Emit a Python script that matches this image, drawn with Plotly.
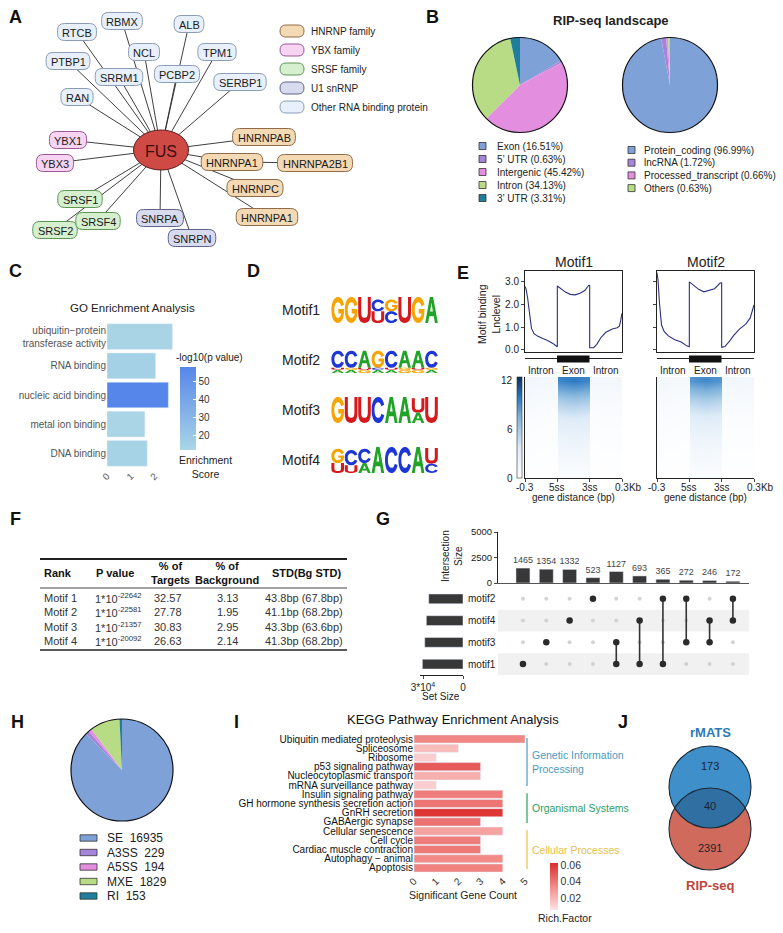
import numpy as np
import plotly.graph_objects as go

W, H = 783, 933
FONT = "Arial, Liberation Sans, Helvetica, sans-serif"

# ======================= DATA =======================
# A: FUS interaction network
hub_name = "FUS"
node_names = ["RTCB", "RBMX", "ALB", "NCL", "TPM1", "PTBP1", "SRRM1", "PCBP2",
              "SERBP1", "RAN", "YBX1", "YBX3", "HNRNPAB", "HNRNPA1", "HNRNPA2B1",
              "HNRNPC", "HNRNPA1", "SRSF1", "SRSF2", "SRSF4", "SNRPA", "SNRPN"]
node_groups = ["other"] * 10 + ["YBX"] * 2 + ["HNRNP"] * 5 + ["SRSF"] * 3 + ["U1"] * 2
node_links = [-1] * 14 + [13] + [-1] * 7          # -1 -> linked to FUS
group_keys = ["HNRNP", "YBX", "SRSF", "U1", "other"]
group_labels = ["HNRNP family", "YBX family", "SRSF family", "U1 snRNP", "Other RNA binding protein"]

# B: RIP-seq landscape
region_labels = ["Exon", "5’ UTR", "Intergenic", "Intron", "3’ UTR"]
region_pct = [16.51, 0.63, 45.42, 34.13, 3.31]
biotype_labels = ["Protein_coding", "lncRNA", "Processed_transcript", "Others"]
biotype_pct = [96.99, 1.72, 0.66, 0.63]

# C: GO enrichment
go_terms = ["ubiquitin−protein<br>transferase activity", "RNA binding", "nucleic acid binding",
            "metal ion binding", "DNA binding"]
go_score = [2.75, 2.04, 2.58, 1.59, 1.69]
go_logp = [13, 15, 58, 12.5, 14]

# D: motif logos (letters per position, top to bottom, relative height)
motif_names = ["Motif1", "Motif2", "Motif3", "Motif4"]
motif_logos = [
    [[("G", 1.0)], [("G", 1.0)], [("U", 1.0)], [("C", 0.45), ("U", 0.45)],
     [("G", 0.45), ("C", 0.45)], [("U", 1.0)], [("G", 1.0)], [("A", 1.0)]],
    [[("C", 0.66), ("U", 0.08), ("A", 0.12)], [("C", 0.66), ("G", 0.08), ("A", 0.12)],
     [("A", 0.66), ("U", 0.08), ("G", 0.12)], [("G", 0.66), ("C", 0.08), ("A", 0.12)],
     [("C", 0.66), ("U", 0.08), ("A", 0.12)], [("A", 0.66), ("G", 0.08), ("G", 0.12)],
     [("A", 0.66), ("U", 0.08), ("G", 0.12)], [("C", 0.66), ("G", 0.08), ("A", 0.12)]],
    [[("G", 1.0)], [("U", 1.0)], [("U", 1.0)], [("C", 1.0)], [("A", 1.0)], [("A", 1.0)],
     [("U", 0.55), ("A", 0.4)], [("U", 1.0)]],
    [[("G", 0.55), ("U", 0.38)], [("C", 0.58), ("U", 0.3)], [("C", 0.55), ("A", 0.38)],
     [("A", 1.0)], [("C", 1.0)], [("C", 1.0)], [("A", 1.0)], [("U", 0.6), ("C", 0.36)]],
]

# E: motif binding profile (x: 0-1 upstream intron, 1-2 exon, 2-3 downstream intron)
prof1_x = [0.00, 0.03, 0.08, 0.14, 0.20, 0.28, 0.40, 0.55, 0.70, 0.85, 0.97, 1.00, 1.00, 1.10, 1.25,
           1.40, 1.55, 1.70, 1.85, 1.97, 2.00, 2.00, 2.12, 2.22, 2.35, 2.50, 2.70, 2.85, 2.92, 2.96, 3.00]
prof1_y = [2.80, 2.70, 2.30, 1.50, 0.95, 0.72, 0.60, 0.50, 0.42, 0.30, 0.15, 0.14, 2.82, 2.72, 2.55,
           2.45, 2.43, 2.50, 2.62, 2.85, 2.84, 0.10, 0.10, 0.25, 0.55, 0.78, 0.92, 0.98, 1.05, 1.30, 1.62]
prof2_x = [0.00, 0.03, 0.08, 0.14, 0.22, 0.35, 0.55, 0.75, 0.92, 1.00, 1.00, 1.12, 1.30, 1.45, 1.60,
           1.78, 1.95, 2.00, 2.00, 2.10, 2.25, 2.38, 2.55, 2.75, 2.88, 3.00]
prof2_y = [3.40, 3.10, 2.00, 1.10, 0.82, 0.62, 0.45, 0.35, 0.18, 0.14, 3.00, 2.85, 2.66, 2.56, 2.62,
           2.70, 2.95, 2.96, 0.12, 0.15, 0.40, 0.65, 0.92, 1.15, 1.40, 1.98]
gene_ticks = ["-0.3", "5ss", "3ss", "0.3Kb"]
hm_cols = [0.02, 0.5, 0.98, 1.02, 1.5, 1.98, 2.02, 2.5, 2.98]
hm1_z = [
    [1.6, 1.3, 1.2, 9.0, 9.5, 9.0, 1.2, 1.3, 1.4],
    [1.3, 1.1, 1.0, 7.6, 8.0, 7.6, 1.0, 1.1, 1.1],
    [1.1, 0.9, 0.8, 6.0, 6.4, 6.0, 0.8, 0.9, 0.9],
    [0.9, 0.7, 0.6, 4.8, 5.1, 4.8, 0.6, 0.7, 0.7],
    [0.7, 0.6, 0.5, 3.8, 4.0, 3.8, 0.5, 0.6, 0.6],
    [0.6, 0.5, 0.4, 3.1, 3.3, 3.1, 0.4, 0.5, 0.5],
    [0.5, 0.4, 0.3, 2.5, 2.7, 2.5, 0.3, 0.4, 0.4],
    [0.4, 0.3, 0.3, 2.0, 2.2, 2.0, 0.3, 0.3, 0.3],
    [0.3, 0.3, 0.2, 1.6, 1.7, 1.6, 0.2, 0.3, 0.3],
    [0.3, 0.2, 0.2, 1.2, 1.3, 1.2, 0.2, 0.2, 0.2],
    [0.2, 0.2, 0.1, 0.9, 1.0, 0.9, 0.1, 0.2, 0.2],
    [0.1, 0.1, 0.1, 0.6, 0.7, 0.6, 0.1, 0.1, 0.1],
]
hm2_z = [
    [1.4, 1.2, 1.1, 8.4, 8.9, 8.4, 1.3, 1.4, 1.5],
    [1.2, 1.0, 0.9, 7.0, 7.4, 7.0, 1.1, 1.2, 1.2],
    [1.0, 0.8, 0.7, 5.5, 5.9, 5.5, 0.9, 1.0, 1.0],
    [0.8, 0.7, 0.6, 4.4, 4.7, 4.4, 0.7, 0.8, 0.8],
    [0.7, 0.6, 0.5, 3.5, 3.7, 3.5, 0.6, 0.6, 0.6],
    [0.6, 0.5, 0.4, 2.8, 3.0, 2.8, 0.5, 0.5, 0.5],
    [0.5, 0.4, 0.3, 2.3, 2.4, 2.3, 0.4, 0.4, 0.4],
    [0.4, 0.3, 0.3, 1.8, 1.9, 1.8, 0.3, 0.3, 0.3],
    [0.3, 0.3, 0.2, 1.4, 1.5, 1.4, 0.3, 0.3, 0.3],
    [0.3, 0.2, 0.2, 1.1, 1.2, 1.1, 0.2, 0.2, 0.2],
    [0.2, 0.2, 0.1, 0.8, 0.9, 0.8, 0.2, 0.2, 0.2],
    [0.1, 0.1, 0.1, 0.6, 0.6, 0.6, 0.1, 0.1, 0.1],
]

# F: motif table
tbl_header = ["Rank", "P value", "% of<br>Targets", "% of<br>Background", "STD(Bg STD)"]
tbl_rank = ["Motif 1", "Motif 2", "Motif 3", "Motif 4"]
tbl_pexp = ["22642", "22581", "21357", "20092"]
tbl_targets = ["32.57", "27.78", "30.83", "26.63"]
tbl_bg = ["3.13", "1.95", "2.95", "2.14"]
tbl_std = ["43.8bp (67.8bp)", "41.1bp (68.2bp)", "43.3bp (63.6bp)", "41.3bp (68.2bp)"]

# G: UpSet plot
set_names = ["motif1", "motif3", "motif4", "motif2"]      # bottom -> top
set_sizes = [30500, 28700, 27500, 25700]
inter_sizes = [1465, 1354, 1332, 523, 1127, 693, 365, 272, 246, 172]
inter_sets = [["motif1"], ["motif3"], ["motif4"], ["motif2"], ["motif3", "motif1"],
              ["motif4", "motif1"], ["motif2", "motif1"], ["motif2", "motif3"],
              ["motif4", "motif3"], ["motif2", "motif4"]]

# H: alternative splicing events
as_types = ["SE", "A3SS", "A5SS", "MXE", "RI"]
as_counts = [16935, 229, 194, 1829, 153]

# I: KEGG
kegg_terms = ["Ubiquitin mediated proteolysis", "Spliceosome", "Ribosome", "p53 signaling pathway",
              "Nucleocytoplasmic transport", "mRNA surveillance pathway", "Insulin signaling pathway",
              "GH hormone synthesis secretion action", "GnRH secretion", "GABAergic synapse",
              "Cellular senescence", "Cell cycle", "Cardiac muscle contraction", "Autophagy − animal",
              "Apoptosis"]
kegg_counts = [5, 2, 1, 3, 3, 1, 4, 4, 4, 3, 4, 3, 3, 4, 4]
kegg_rich = [0.035, 0.018, 0.012, 0.048, 0.022, 0.012, 0.038, 0.040, 0.060, 0.041,
             0.026, 0.038, 0.039, 0.034, 0.036]
kegg_groups = ["Genetic Information<br>Processing", "Organismal Systems", "Cellular Processes"]
kegg_group_rows = [(0, 5), (6, 9), (10, 14)]

# J: Venn
venn_names = ["rMATS", "RIP-seq"]
venn_counts = [173, 40, 2391]

# ======================= STYLE / LAYOUT =======================
pie_colors = ["#7ea1d8", "#a584d9", "#e48ee0", "#b8dc86", "#1f7e9e"]
pie2_colors = ["#7ea1d8", "#a584d9", "#e48ee0", "#b8dc86"]
grp_fill = {"HNRNP": "#f4d9b5", "YBX": "#f7d4f2", "SRSF": "#d6efcf", "U1": "#d8dbee", "other": "#e7f0fb"}
grp_line = {"HNRNP": "#8f6c47", "YBX": "#9c5896", "SRSF": "#5e9657", "U1": "#5f6388", "other": "#8a9cb8"}
node_xy = [(77, 32), (122, 21), (189, 24), (144, 52), (217, 52), (68, 61), (119, 77), (177, 74),
           (240, 82), (77, 97), (68, 140), (55, 163), (264, 137), (232, 162), (315, 163),
           (255, 188), (267, 217), (80, 199), (55, 230), (98, 221), (160, 218), (192, 238)]
hub_xy = (161, 150)
letter_col = {"A": "#21a328", "C": "#1d36d6", "G": "#f5a400", "U": "#d5191c"}

LETTERS = {
    "A": [("M", 0, 1), ("L", 0.37, 0), ("L", 0.63, 0), ("L", 1, 1), ("L", 0.77, 1), ("L", 0.68, 0.74),
          ("L", 0.32, 0.74), ("L", 0.23, 1), ("Z",),
          ("M", 0.39, 0.56), ("L", 0.61, 0.56), ("L", 0.5, 0.22), ("Z",)],
    "C": [("M", 1, 0.3), ("C", 0.92, 0.1, 0.74, 0, 0.52, 0), ("C", 0.2, 0, 0, 0.22, 0, 0.5),
          ("C", 0, 0.8, 0.2, 1, 0.52, 1), ("C", 0.76, 1, 0.92, 0.88, 1, 0.7), ("L", 0.78, 0.64),
          ("C", 0.73, 0.75, 0.64, 0.8, 0.52, 0.8), ("C", 0.34, 0.8, 0.23, 0.68, 0.23, 0.5),
          ("C", 0.23, 0.32, 0.34, 0.2, 0.52, 0.2), ("C", 0.64, 0.2, 0.73, 0.26, 0.78, 0.36), ("Z",)],
    "G": [("M", 1, 0.3), ("C", 0.92, 0.1, 0.74, 0, 0.52, 0), ("C", 0.2, 0, 0, 0.22, 0, 0.5),
          ("C", 0, 0.8, 0.2, 1, 0.52, 1), ("C", 0.8, 1, 1, 0.82, 1, 0.56), ("L", 1, 0.46),
          ("L", 0.55, 0.46), ("L", 0.55, 0.63), ("L", 0.78, 0.63),
          ("C", 0.75, 0.74, 0.65, 0.8, 0.52, 0.8), ("C", 0.34, 0.8, 0.23, 0.68, 0.23, 0.5),
          ("C", 0.23, 0.32, 0.34, 0.2, 0.52, 0.2), ("C", 0.64, 0.2, 0.73, 0.26, 0.78, 0.36), ("Z",)],
    "U": [("M", 0, 0), ("L", 0.24, 0), ("L", 0.24, 0.6), ("C", 0.24, 0.76, 0.34, 0.8, 0.5, 0.8),
          ("C", 0.66, 0.8, 0.76, 0.76, 0.76, 0.6), ("L", 0.76, 0), ("L", 1, 0), ("L", 1, 0.62),
          ("C", 1, 0.9, 0.8, 1, 0.5, 1), ("C", 0.2, 1, 0, 0.9, 0, 0.62), ("Z",)],
}
CW = {"A": .667, "B": .667, "C": .722, "E": .667, "F": .611, "H": .722, "L": .556, "M": .833,
      "N": .722, "P": .667, "R": .722, "S": .667, "T": .611, "U": .722, "X": .667, "Y": .667,
      "1": .556, "2": .556, "3": .556, "4": .556}


def px(x):
    return x / W


def py(y):
    return 1 - y / H


fig = go.Figure()
shapes, annos = [], []


def T(x, y, s, size=10, color="#222", bold=False, xa="center", ya="middle", angle=0,
      xref="x", yref="y", align="center"):
    annos.append(dict(x=x, y=y, xref=xref, yref=yref, text=(f"<b>{s}</b>" if bold else s),
                      showarrow=False, font=dict(size=size, color=color, family=FONT),
                      xanchor=xa, yanchor=ya, textangle=angle, align=align, borderpad=0))


def S(**kw):
    d = dict(xref="x", yref="y", layer="above")
    d.update(kw)
    shapes.append(d)


def rrect(x0, y0, x1, y1, r):
    return (f"M{x0+r},{y0} L{x1-r},{y0} Q{x1},{y0} {x1},{y0+r} L{x1},{y1-r} Q{x1},{y1} {x1-r},{y1} "
            f"L{x0+r},{y1} Q{x0},{y1} {x0},{y1-r} L{x0},{y0+r} Q{x0},{y0} {x0+r},{y0} Z")


def letter_path(ch, x0, y0, w, h):
    out = []
    for seg in LETTERS[ch]:
        nums = seg[1:]
        pts = [f"{x0 + nums[k] * w:.2f},{y0 + nums[k + 1] * h:.2f}" for k in range(0, len(nums), 2)]
        out.append(seg[0] + " ".join(pts))
    return " ".join(out)


# panel letters
for lab, lx, ly in [("A", 15, 17), ("B", 432, 17), ("C", 15, 271), ("D", 253, 271), ("E", 463, 273),
                    ("F", 15, 519), ("G", 383, 519), ("H", 17, 722), ("I", 236, 722), ("J", 623, 722)]:
    T(lx, ly, lab, size=18, color="#111", bold=True)

# ---------------- A ----------------
ex, ey = [], []
for i, (x, y) in enumerate(node_xy):
    tx, ty = hub_xy if node_links[i] < 0 else node_xy[node_links[i]]
    ex += [x, tx, None]
    ey += [y, ty, None]
fig.add_trace(go.Scatter(x=ex, y=ey, mode="lines", line=dict(color="#2a2a2a", width=0.9),
                         xaxis="x", yaxis="y", hoverinfo="skip", showlegend=False))
for name, grp, (cx, cy) in zip(node_names, node_groups, node_xy):
    w = sum(CW.get(c, 0.6) for c in name) * 11 + 9
    h = 17
    S(type="path", path=rrect(cx - w / 2, cy - h / 2, cx + w / 2, cy + h / 2, 7),
      fillcolor=grp_fill[grp], line=dict(color=grp_line[grp], width=1))
    T(cx, cy + 0.5, name, size=11, color="#1a1a1a")
S(type="circle", x0=hub_xy[0] - 27.5, x1=hub_xy[0] + 27.5, y0=hub_xy[1] - 20, y1=hub_xy[1] + 20,
  fillcolor="#cf4a45", line=dict(color="#5b1c1c", width=1))
T(hub_xy[0], hub_xy[1] + 1, hub_name, size=16, color="#3b0f0f")
for k, (g, lab) in enumerate(zip(group_keys, group_labels)):
    yy = 31 + k * 19
    S(type="path", path=rrect(280, yy - 6, 304, yy + 6, 6), fillcolor=grp_fill[g],
      line=dict(color=grp_line[g], width=1))
    T(310, yy, lab, size=10, color="#222", xa="left")

# ---------------- B ----------------
T(611, 20, "RIP-seq landscape", size=13, color="#222", bold=True)
for vals, labs, cols, cx in [(region_pct, region_labels, pie_colors, 520),
                             (biotype_pct, biotype_labels, pie2_colors, 670)]:
    r = 47.5
    fig.add_trace(go.Pie(values=vals, labels=labs, marker=dict(colors=cols, line=dict(width=0)),
                         domain=dict(x=[px(cx - r), px(cx + r)], y=[py(85 + r), py(85 - r)]),
                         sort=False, direction="clockwise", rotation=0, textinfo="none",
                         hoverinfo="skip", showlegend=False, automargin=False))
    S(type="circle", x0=cx - r, x1=cx + r, y0=85 - r, y1=85 + r, line=dict(color="#111", width=1.2),
      fillcolor="rgba(0,0,0,0)")
for k, (lab, v) in enumerate(zip(region_labels, region_pct)):
    yy = 146 + k * 13
    S(type="rect", x0=479, x1=486, y0=yy - 3.5, y1=yy + 3.5, fillcolor=pie_colors[k],
      line=dict(color="#333", width=0.8))
    T(496, yy, f"{lab} ({v}%)", size=10, color="#222", xa="left")
for k, (lab, v) in enumerate(zip(biotype_labels, biotype_pct)):
    yy = 150 + k * 12.7
    S(type="rect", x0=628, x1=635, y0=yy - 3.5, y1=yy + 3.5, fillcolor=pie2_colors[k],
      line=dict(color="#333", width=0.8))
    T(643, yy, f"{lab} ({v}%)", size=10, color="#222", xa="left")

# ---------------- C ----------------
T(132, 308, "GO Enrichment Analysis", size=11.5, color="#222")
fig.add_trace(go.Bar(x=go_score, y=go_terms, orientation="h", width=0.88, xaxis="x2", yaxis="y2",
                     marker=dict(color=go_logp, cmin=12, cmax=58,
                                 colorscale=[[0, "#aad6e6"], [1, "#5786ea"]],
                                 colorbar=dict(x=px(180), xanchor="left", y=py(450), yanchor="bottom",
                                               lenmode="pixels", len=83, thickness=16, xpad=0, ypad=0,
                                               outlinewidth=0, tickvals=[20, 30, 40, 50],
                                               ticks="inside", ticklen=3, tickcolor="white",
                                               tickfont=dict(size=10, color="#333", family=FONT))),
                     hoverinfo="skip", showlegend=False))
T(209, 357, "-log10(p value)", size=10, color="#222")
T(205, 467, "Enrichment<br>Score", size=10.5, color="#222")

# ---------------- D ----------------
logo_x0, colw, full_h = 331, 13.4, 26
for m, (mname, logo) in enumerate(zip(motif_names, motif_logos)):
    base = 323 + m * 50
    T(281, base - 13, mname, size=14, color="#222", xa="left")
    for i, pos in enumerate(logo):
        total = sum(hh for _, hh in pos)
        ytop = base - total * full_h
        for ch, hh in pos:
            S(type="path", path=letter_path(ch, logo_x0 + i * colw + 0.4, ytop, colw - 0.8, hh * full_h),
              fillcolor=letter_col[ch], line=dict(width=0))
            ytop += hh * full_h

# ---------------- E ----------------
hm_scale = [[0, "#ffffff"], [0.3, "#deebf7"], [0.6, "#7fb3dc"], [0.8, "#2a78c2"], [1, "#0b2d5e"]]
for k, (mname, xs, ys, z, xl, ax) in enumerate([("Motif1", prof1_x, prof1_y, hm1_z, 525, 3),
                                                 ("Motif2", prof2_x, prof2_y, hm2_z, 657, 4)]):
    xr = xl + 97
    T((xl + xr) / 2, 262, mname, size=14, color="#222")
    fig.add_trace(go.Scatter(x=xs, y=ys, mode="lines", line=dict(color="#2c3080", width=1.1),
                             xaxis=f"x{ax}", yaxis=f"y{ax}", hoverinfo="skip", showlegend=False))
    cb = dict(x=px(517), xanchor="left", y=py(478), yanchor="bottom", lenmode="pixels", len=101,
              thickness=5, xpad=0, ypad=0, showticklabels=False, ticks="", outlinewidth=0.6,
              outlinecolor="#333")
    fig.add_trace(go.Heatmap(z=z, x=hm_cols, y0=0, dy=1, zmin=0, zmax=12, colorscale=hm_scale,
                             zsmooth="best", showscale=(k == 0), colorbar=cb,
                             xaxis=f"x{ax + 2}", yaxis=f"y{ax + 2}", hoverinfo="skip"))
    # gene model
    S(type="line", x0=xl, x1=xr, y0=358.5, y1=358.5, line=dict(color="#222", width=1))
    S(type="rect", x0=xl + 32, x1=xl + 64.5, y0=355.5, y1=362.5, fillcolor="#111", line=dict(width=0))
    for lab, xx in [("Intron", xl + 16), ("Exon", xl + 48), ("Intron", xl + 81)]:
        T(xx, 370, lab, size=10, color="#222")
    for lab, xx in zip(gene_ticks, [xl, xl + 32, xl + 64.5, xl + 97]):
        T(xx + (6 if lab == "0.3Kb" else 0), 487, lab, size=10, color="#222")
    T((xl + xr) / 2, 497.5, "gene distance (bp)", size=10, color="#222")
T(489, 314, "Motif binding<br>Lnclevel", size=10.5, color="#222", angle=-90)
for lab, yy in [("12", 380), ("6", 429), ("0", 478)]:
    T(514, yy, lab, size=10, color="#222", xa="right")

# ---------------- F ----------------
S(type="line", x0=40, x1=347, y0=559, y1=559, line=dict(color="#222", width=2))
S(type="line", x0=40, x1=347, y0=588, y1=588, line=dict(color="#444", width=1))
S(type="line", x0=40, x1=347, y0=650, y1=650, line=dict(color="#222", width=1.6))
for lab, xx in zip(tbl_header, [58, 115, 170, 227, 306]):
    T(xx, 573, lab, size=11, color="#111", bold=True)
for r in range(4):
    yy = 598 + r * 14.4
    T(43, yy, tbl_rank[r], size=11, color="#333", xa="left")
    T(94, yy, f"1*10<sup>-{tbl_pexp[r]}</sup>", size=11, color="#333", xa="left")
    T(168, yy, tbl_targets[r], size=11, color="#333")
    T(227, yy, tbl_bg[r], size=11, color="#333")
    T(304, yy, tbl_std[r], size=11, color="#333")

# ---------------- G ----------------
cols_idx = list(range(len(inter_sizes)))
fig.add_trace(go.Bar(x=cols_idx, y=inter_sizes, width=0.6, marker=dict(color="#383838"),
                     text=[str(v) for v in inter_sizes], textposition="outside", cliponaxis=False,
                     constraintext="none", textfont=dict(size=9, color="#444", family=FONT),
                     xaxis="x7", yaxis="y7", hoverinfo="skip", showlegend=False))
in_x, in_y, on_x, on_y, lx, ly = [], [], [], [], [], []
for c, members in enumerate(inter_sets):
    rows = [set_names.index(mm) for mm in members]
    for r in range(len(set_names)):
        if r in rows:
            on_x.append(c)
            on_y.append(r)
        else:
            in_x.append(c)
            in_y.append(r)
    if len(rows) > 1:
        lx += [c, c, None]
        ly += [min(rows), max(rows), None]
fig.add_trace(go.Scatter(x=in_x, y=in_y, mode="markers", marker=dict(color="#d3d3d3", size=4),
                         xaxis="x8", yaxis="y8", hoverinfo="skip", showlegend=False))
fig.add_trace(go.Scatter(x=lx, y=ly, mode="lines", line=dict(color="#333", width=1.6),
                         xaxis="x8", yaxis="y8", hoverinfo="skip", showlegend=False))
fig.add_trace(go.Scatter(x=on_x, y=on_y, mode="markers", marker=dict(color="#2b2b2b", size=6.5),
                         xaxis="x8", yaxis="y8", hoverinfo="skip", showlegend=False))
fig.add_trace(go.Bar(x=set_sizes, y=list(range(len(set_names))), orientation="h", width=0.45,
                     marker=dict(color="#383838"), xaxis="x9", yaxis="y9", hoverinfo="skip",
                     showlegend=False))
for r in (0, 2):
    shapes.append(dict(type="rect", xref="x8 domain", yref="y8", x0=0, x1=1, y0=r - 0.5, y1=r + 0.5,
                       fillcolor="#f1f1f1", line=dict(width=0), layer="below"))
for r, nm in enumerate(set_names):
    T(467, r, nm, size=10, color="#222", xa="left", yref="y8")
T(452, 556, "Intersection<br>Size", size=10, color="#222", angle=-90)
T(441, 696, "Set Size", size=10, color="#222")

# ---------------- H ----------------
hc, hr = (122, 770), 51
fig.add_trace(go.Pie(values=as_counts, labels=as_types, marker=dict(colors=pie_colors, line=dict(width=0)),
                     domain=dict(x=[px(hc[0] - hr), px(hc[0] + hr)], y=[py(hc[1] + hr), py(hc[1] - hr)]),
                     sort=False, direction="clockwise", rotation=0, textinfo="none",
                     hoverinfo="skip", showlegend=False, automargin=False))
S(type="circle", x0=hc[0] - hr, x1=hc[0] + hr, y0=hc[1] - hr, y1=hc[1] + hr,
  line=dict(color="#111", width=1.2), fillcolor="rgba(0,0,0,0)")
for k, (lab, v) in enumerate(zip(as_types, as_counts)):
    yy = 838 + k * 14.5
    S(type="rect", x0=80, x1=97, y0=yy - 3.2, y1=yy + 3.2, fillcolor=pie_colors[k],
      line=dict(color="#333", width=0.8))
    T(106, yy, f"{lab}  {v}", size=12, color="#222", xa="left")

# ---------------- I ----------------
T(453, 719, "KEGG Pathway Enrichment Analysis", size=13, color="#111")
fig.add_trace(go.Bar(x=kegg_counts, y=kegg_terms, orientation="h", width=0.88, xaxis="x10", yaxis="y10",
                     marker=dict(color=kegg_rich, cmin=0.005, cmax=0.063,
                                 colorscale=[[0, "#fde4e4"], [0.5, "#f28a88"], [1, "#dc2b2b"]],
                                 colorbar=dict(x=px(550), xanchor="left", y=py(910), yanchor="bottom",
                                               lenmode="pixels", len=47, thickness=8, xpad=0, ypad=0,
                                               outlinewidth=0, tickvals=[0.02, 0.04, 0.06], ticks="",
                                               tickfont=dict(size=10.5, color="#333", family=FONT))),
                     hoverinfo="skip", showlegend=False))
T(463, 895, "Significant Gene Count", size=10.5, color="#222")
T(565, 918, "Rich.Factor", size=10.5, color="#222")
grp_cols = ["#4a9ac0", "#2e9d62", "#e6c04b"]
row_y0, row_dy = 739, 9.21
for (a, b), lab, col in zip(kegg_group_rows, kegg_groups, grp_cols):
    y0, y1 = row_y0 + a * row_dy - 1, row_y0 + b * row_dy + 1
    S(type="line", x0=527, x1=527, y0=y0, y1=y1, line=dict(color=col, width=1.2))
    T(531, (y0 + y1) / 2, lab, size=10.5, color=col, xa="left", align="left")

# ---------------- J ----------------
c1, c2, vr = (710, 787), (710, 829), 41
S(type="circle", x0=c2[0] - vr, x1=c2[0] + vr, y0=c2[1] - vr, y1=c2[1] + vr, fillcolor="#cf6a5c",
  line=dict(width=0))
S(type="circle", x0=c1[0] - vr, x1=c1[0] + vr, y0=c1[1] - vr, y1=c1[1] + vr, fillcolor="#3f8fcb",
  line=dict(width=0))
half = (c2[1] - c1[1]) / 2
a0 = np.arcsin(half / vr)
t1 = np.linspace(a0, np.pi - a0, 40)
t2 = np.linspace(np.pi + a0, 2 * np.pi - a0, 40)
pts = [(c1[0] + vr * np.cos(t), c1[1] + vr * np.sin(t)) for t in t1] + \
      [(c2[0] + vr * np.cos(t), c2[1] + vr * np.sin(t)) for t in t2]
S(type="path", path="M" + " L".join(f"{x:.2f},{y:.2f}" for x, y in pts) + " Z", fillcolor="#2f6fa1",
  line=dict(width=0))
for cc in (c1, c2):
    S(type="circle", x0=cc[0] - vr, x1=cc[0] + vr, y0=cc[1] - vr, y1=cc[1] + vr,
      fillcolor="rgba(0,0,0,0)", line=dict(color="#1e2a36", width=1.1))
T(710, 732, venn_names[0], size=13, color="#2a7bb8", bold=True)
T(710, 885, venn_names[1], size=13, color="#c0443a", bold=True)
for v, yy in zip(venn_counts, [766, 806, 848]):
    T(710, yy, str(v), size=11, color="#1b2430")

# ======================= AXES =======================
hid = dict(showgrid=False, zeroline=False, fixedrange=True, automargin=False)
upset_range = [-1.07, 9.69]
axes = dict(
    xaxis=dict(domain=[0, 1], range=[0, W], visible=False, **hid),
    yaxis=dict(domain=[0, 1], range=[H, 0], visible=False, **hid),
    xaxis2=dict(domain=[px(107), px(176)], range=[0, 2.9], anchor="y2", tickvals=[0, 1, 2], tickangle=-45,
                tickfont=dict(size=9.5, color="#555"), showline=False, ticks="", **hid),
    yaxis2=dict(domain=[py(468), py(322)], anchor="x2", autorange="reversed", ticks="",
                tickmode="array", tickvals=go_terms,
                tickfont=dict(size=10, color="#555"), showline=False, **hid),
    xaxis3=dict(domain=[px(525), px(622)], range=[0, 3], anchor="y3", showticklabels=False, ticks="",
                showline=True, mirror=True, linecolor="#222", linewidth=1, **hid),
    yaxis3=dict(domain=[py(352), py(271)], range=[-0.09, 3.48], anchor="x3", tickvals=[0, 1, 2, 3],
                ticktext=["0.0", "1.0", "2.0", "3.0"], ticks="outside", ticklen=3,
                tickfont=dict(size=10, color="#222"), showline=True, mirror=True, linecolor="#222",
                linewidth=1, **hid),
    xaxis4=dict(domain=[px(657), px(754)], range=[0, 3], anchor="y4", showticklabels=False, ticks="",
                showline=True, mirror=True, linecolor="#222", linewidth=1, **hid),
    yaxis4=dict(domain=[py(352), py(271)], range=[-0.09, 3.48], anchor="x4", tickvals=[0, 1, 2, 3],
                showticklabels=False, ticks="outside", ticklen=3, showline=True, mirror=True,
                linecolor="#222", linewidth=1, **hid),
    xaxis5=dict(domain=[px(525), px(622)], range=[0, 3], anchor="y5", tickvals=[0, 1, 2, 3],
                showticklabels=False, ticks="outside", ticklen=3, showline=True, linecolor="#222", **hid),
    yaxis5=dict(domain=[py(478), py(377)], range=[11.5, -0.5], anchor="x5", showticklabels=False,
                ticks="", showline=True, linecolor="#222", **hid),
    xaxis6=dict(domain=[px(657), px(754)], range=[0, 3], anchor="y6", tickvals=[0, 1, 2, 3],
                showticklabels=False, ticks="outside", ticklen=3, showline=True, linecolor="#222", **hid),
    yaxis6=dict(domain=[py(478), py(377)], range=[11.5, -0.5], anchor="x6", showticklabels=False,
                ticks="", showline=True, linecolor="#222", **hid),
    xaxis7=dict(domain=[px(498), px(749)], range=upset_range, anchor="y7", showticklabels=False,
                ticks="", showline=True, linecolor="#555", linewidth=1.3, **hid),
    yaxis7=dict(domain=[py(583), py(532)], range=[0, 5000], anchor="x7", tickvals=[0, 2500, 5000],
                ticks="outside", ticklen=3, showline=True, linecolor="#222", linewidth=1,
                tickfont=dict(size=9.5, color="#222"), **hid),
    xaxis8=dict(domain=[px(498), px(749)], range=upset_range, anchor="y8", visible=False, **hid),
    yaxis8=dict(domain=[py(675), py(588)], range=[-0.5, 3.5], anchor="x8", visible=False, **hid),
    xaxis9=dict(domain=[px(420), px(463)], range=[32250, 0], anchor="y9", tickvals=[30000, 0],
                ticktext=["3*10<sup>4</sup>", "0"], ticks="outside", ticklen=3, showline=True,
                linecolor="#222", tickfont=dict(size=10, color="#222"), **hid),
    yaxis9=dict(domain=[py(675), py(588)], range=[-0.5, 3.5], anchor="x9", visible=False, **hid),
    xaxis10=dict(domain=[px(414), px(525)], range=[0, 5], anchor="y10", tickvals=[0, 1, 2, 3, 4, 5],
                 tickangle=-45, ticks="", tickfont=dict(size=10, color="#333"), showline=False, **hid),
    yaxis10=dict(domain=[py(872.6), py(734.4)], anchor="x10", autorange="reversed", ticks="",
                 tickmode="array", tickvals=kegg_terms,
                 tickfont=dict(size=10, color="#111"), showline=False, **hid),
)

fig.update_layout(width=W, height=H, autosize=False, margin=dict(l=0, r=0, t=0, b=0, pad=0, autoexpand=False),
                  paper_bgcolor="white", plot_bgcolor="rgba(0,0,0,0)", showlegend=False,
                  font=dict(family=FONT, color="#222"), shapes=shapes, annotations=annos,
                  bargap=0.1, **axes)
fig.write_html("out.html", config={"displayModeBar": False, "staticPlot": True},
               post_script="document.body.style.margin='0px';")
